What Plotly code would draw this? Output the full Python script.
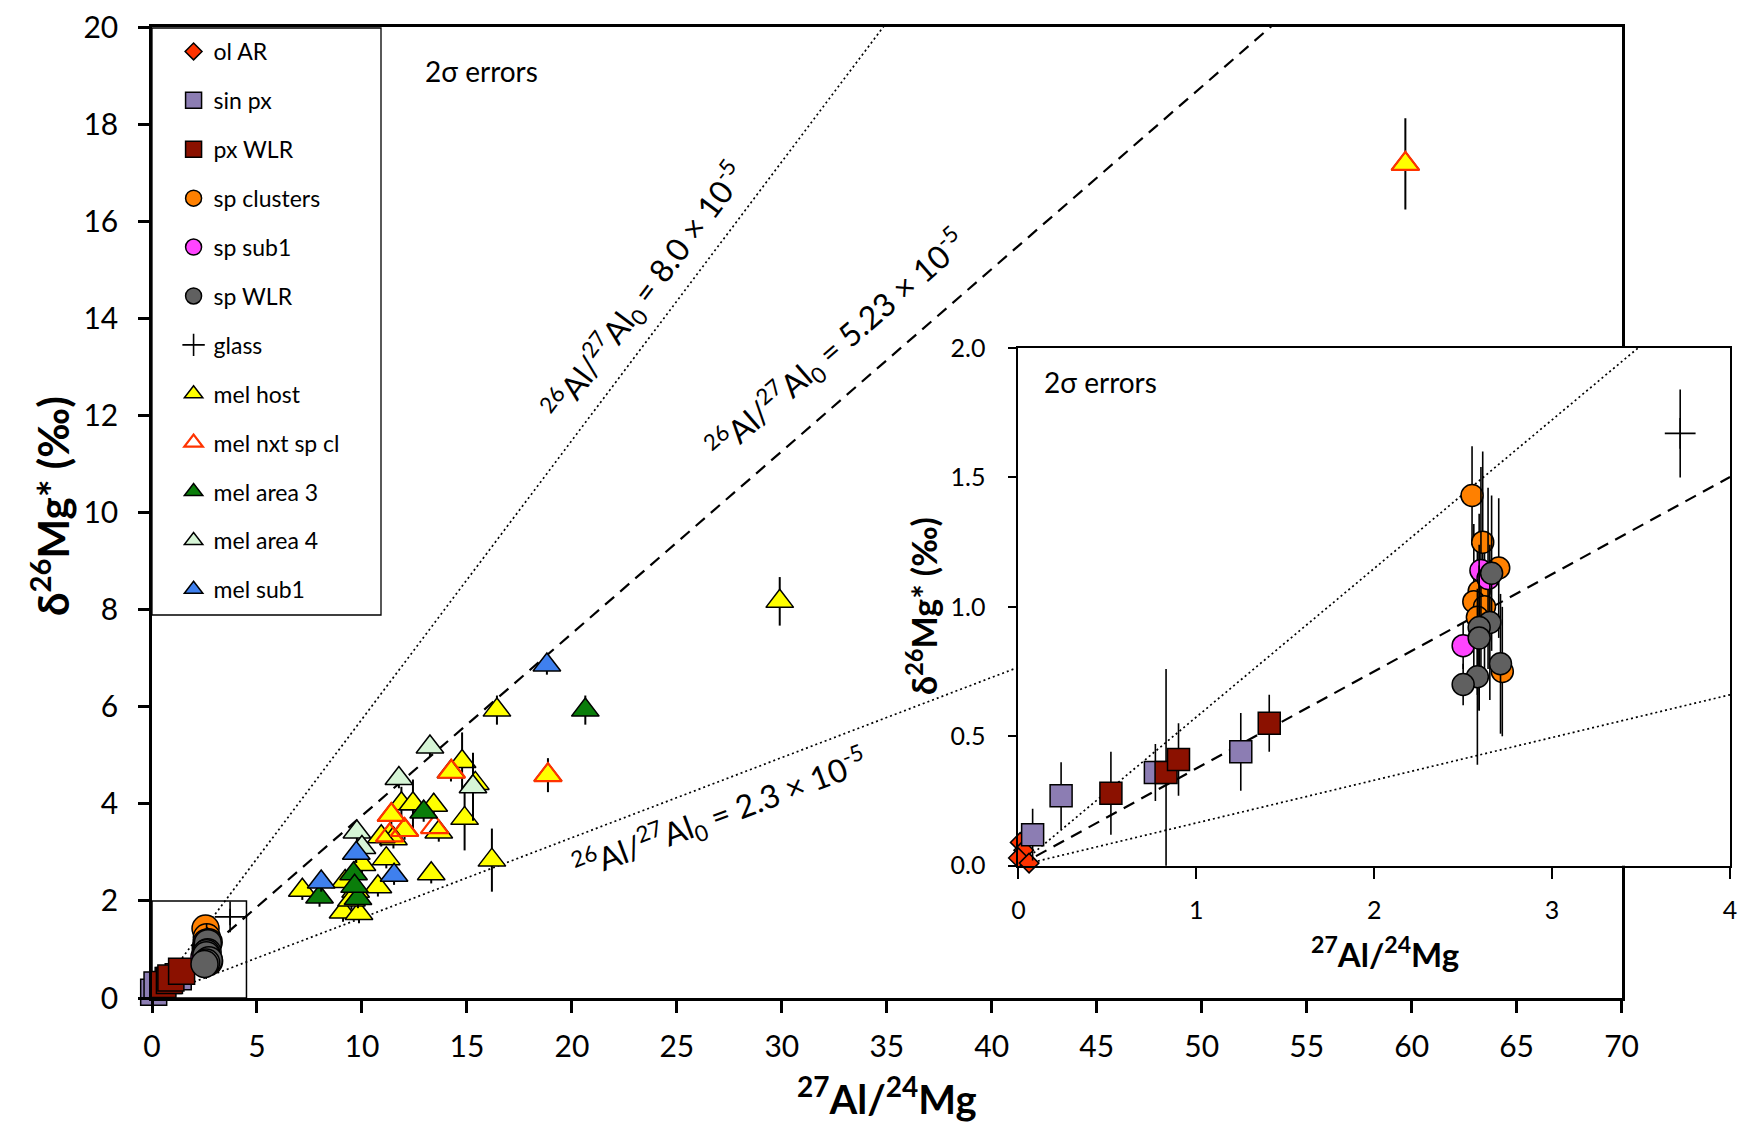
import plotly.graph_objects as go

# ---------------- data ----------------
# inset-scale groups (also shown in the main panel)
ol_ar_x = [0.01, 0.03, 0.00, 0.06]
ol_ar_y = [0.09, 0.06, 0.03, 0.01]
ol_ar_err = [0.03, 0.03, 0.03, 0.03]

sin_px_x = [0.08, 0.24, 0.77, 1.25]
sin_px_y = [0.12, 0.27, 0.36, 0.44]
sin_px_err = [0.10, 0.13, 0.11, 0.15]

px_wlr_x = [0.52, 0.83, 0.90, 1.41]
px_wlr_y = [0.28, 0.36, 0.41, 0.55]
px_wlr_err = [0.16, 0.40, 0.14, 0.11]

sp_cl_x = [2.55, 2.61, 2.70, 2.59, 2.56, 2.62, 2.58, 2.72]
sp_cl_y = [1.43, 1.25, 1.15, 1.06, 1.02, 1.00, 0.96, 0.75]
sp_cl_err = [0.19, 0.35, 0.27, 0.30, 0.30, 0.28, 0.30, 0.25]

sp_sub1_x = [2.60, 2.64, 2.50]
sp_sub1_y = [1.14, 1.11, 0.85]
sp_sub1_err = [0.40, 0.35, 0.09]

sp_wlr_x = [2.66, 2.65, 2.59, 2.59, 2.71, 2.58, 2.50]
sp_wlr_y = [1.13, 0.94, 0.92, 0.88, 0.78, 0.73, 0.70]
sp_wlr_err = [0.30, 0.30, 0.32, 0.28, 0.27, 0.34, 0.08]

glass_x = [3.72]
glass_y = [1.67]
glass_err = [0.17]

# melilite groups (main panel)
mel_host_x = [59.7, 29.9, 16.43, 14.77, 14.24, 18.86, 15.40, 11.88, 12.43, 13.42,
              11.40, 13.66, 12.03, 11.32, 11.50, 14.89, 10.92, 10.00, 11.16, 16.19,
              13.30, 9.20, 7.16, 10.76, 9.70, 9.10, 9.86, 9.50]
mel_host_y = [17.18, 8.17, 5.93, 4.87, 4.66, 4.59, 4.42, 4.00, 4.00, 3.97,
              3.77, 3.42, 3.46, 3.35, 3.28, 3.70, 3.32, 2.75, 2.87, 2.84,
              2.56, 2.40, 2.22, 2.29, 2.20, 1.77, 1.74, 2.02]
mel_host_err = [0.94, 0.50, 0.30, 0.60, 0.20, 0.35, 0.20, 0.35, 0.50, 0.25,
                0.25, 0.20, 0.20, 0.20, 0.20, 0.66, 0.20, 0.20, 0.20, 0.65,
                0.20, 0.20, 0.20, 0.20, 0.20, 0.20, 0.20, 0.20]

mel_nxt_x = [59.7, 18.86, 14.26, 11.40, 13.46, 12.03, 11.32]
mel_nxt_y = [17.18, 4.59, 4.66, 3.77, 3.52, 3.46, 3.35]

mel_a3_x = [20.64, 12.94, 9.60, 7.98, 9.81, 9.65]
mel_a3_y = [5.93, 3.83, 2.56, 2.08, 2.05, 2.30]
mel_a3_err = [0.30, 0.20, 0.20, 0.20, 0.20, 0.20]

mel_a4_x = [13.24, 15.29, 11.76, 9.76, 10.00]
mel_a4_y = [5.17, 4.35, 4.52, 3.42, 3.10]
mel_a4_err = [0.20, 0.70, 0.20, 0.20, 0.20]

mel_sub1_x = [18.81, 9.73, 11.53, 8.06]
mel_sub1_y = [6.86, 2.98, 2.53, 2.39]
mel_sub1_err = [0.20, 0.20, 0.20, 0.20]

# isochron slopes: (26Al/27Al)0 * 1000 / 0.13932
iso_ratio = [8.0e-5, 5.23e-5, 2.3e-5]
iso_slope = [r * 1000 / 0.13932 for r in iso_ratio]
iso_dash = ["2px,3px", "12px,8px", "2px,3px"]
iso_width = [1.7, 2.2, 1.7]

main_xticks = list(range(0, 75, 5))
main_yticks = list(range(0, 22, 2))
inset_xticks = [0, 1, 2, 3, 4]
inset_yticks = [0.0, 0.5, 1.0, 1.5, 2.0]

# ---------------- layout helpers ----------------
W, H = 1744, 1130
ML, MR, MT, MB = 152, 14, 27, 132
PW, PH = W - ML - MR, H - MT - MB


def dx(px):
    return (px - ML) / PW


def dy(py):
    return (H - MB - py) / PH


FONT = "Lato"
BLACK = "black"

fig = go.Figure()

# isochron lines (main + inset)
for s, d, w in zip(iso_slope, iso_dash, iso_width):
    fig.add_trace(go.Scatter(x=[0, 70], y=[0, 70 * s], mode="lines",
                             line=dict(color=BLACK, dash=d, width=w),
                             showlegend=False, hoverinfo="skip",
                             xaxis="x", yaxis="y"))
for s, d, w in zip(iso_slope, iso_dash, iso_width):
    fig.add_trace(go.Scatter(x=[0, 4], y=[0, 4 * s], mode="lines",
                             line=dict(color=BLACK, dash=d, width=w),
                             showlegend=False, hoverinfo="skip",
                             xaxis="x2", yaxis="y2"))

groups = [
    ("ol AR", ol_ar_x, ol_ar_y, ol_ar_err, "diamond", "#FF3300", 13, 15),
    ("sin px", sin_px_x, sin_px_y, sin_px_err, "square", "#8C7DB3", 26, 22),
    ("px WLR", px_wlr_x, px_wlr_y, px_wlr_err, "square", "#8B1100", 26, 22),
    ("sp clusters", sp_cl_x, sp_cl_y, sp_cl_err, "circle", "#FF8000", 27, 22),
    ("sp sub1", sp_sub1_x, sp_sub1_y, sp_sub1_err, "circle", "#FF44FF", 27, 22),
    ("sp WLR", sp_wlr_x, sp_wlr_y, sp_wlr_err, "circle", "#606060", 27, 22),
]

for i, (name, xs, ys, es, sym, col, s_main, s_in) in enumerate(groups):
    for ax, sz, show in (("", s_main, True), ("2", s_in, False)):
        fig.add_trace(go.Scatter(
            x=xs, y=ys, mode="markers", name=name,
            legendgroup=name, showlegend=show, cliponaxis=False,
            marker=dict(symbol=sym, size=sz, color=col,
                        line=dict(color=BLACK, width=1.5)),
            error_y=dict(type="data", array=es, color=BLACK,
                         thickness=1.6, width=0),
            xaxis="x" + ax, yaxis="y" + ax))

# glass
for ax, show in (("", True), ("2", False)):
    fig.add_trace(go.Scatter(
        x=glass_x, y=glass_y, mode="markers", name="glass",
        legendgroup="glass", showlegend=show, cliponaxis=False,
        marker=dict(symbol="cross-thin-open", size=22, color=BLACK,
                    line=dict(color=BLACK, width=1.6)),
        error_y=dict(type="data", array=glass_err, color=BLACK,
                     thickness=1.6, width=0),
        xaxis="x" + ax, yaxis="y" + ax))

TRI = 24
fig.add_trace(go.Scatter(
    x=mel_host_x, y=mel_host_y, mode="markers", name="mel host",
    legendgroup="mel host", cliponaxis=False,
    marker=dict(symbol="triangle-up", size=TRI, color="#FFFF00",
                line=dict(color=BLACK, width=1.5)),
    error_y=dict(type="data", array=mel_host_err, color=BLACK,
                 thickness=2, width=0)))
fig.add_trace(go.Scatter(
    x=mel_nxt_x, y=mel_nxt_y, mode="markers", name="mel nxt sp cl",
    legendgroup="mel nxt sp cl", cliponaxis=False,
    marker=dict(symbol="triangle-up-open", size=TRI, color="#FF3300",
                line=dict(color="#FF3300", width=2.2))))
fig.add_trace(go.Scatter(
    x=mel_a3_x, y=mel_a3_y, mode="markers", name="mel area 3",
    legendgroup="mel area 3", cliponaxis=False,
    marker=dict(symbol="triangle-up", size=TRI, color="#0A7D0A",
                line=dict(color=BLACK, width=1.5)),
    error_y=dict(type="data", array=mel_a3_err, color=BLACK,
                 thickness=2, width=0)))
fig.add_trace(go.Scatter(
    x=mel_a4_x, y=mel_a4_y, mode="markers", name="mel area 4",
    legendgroup="mel area 4", cliponaxis=False,
    marker=dict(symbol="triangle-up", size=TRI, color="#D6F5D6",
                line=dict(color=BLACK, width=1.5)),
    error_y=dict(type="data", array=mel_a4_err, color=BLACK,
                 thickness=2, width=0)))
fig.add_trace(go.Scatter(
    x=mel_sub1_x, y=mel_sub1_y, mode="markers", name="mel sub1",
    legendgroup="mel sub1", cliponaxis=False,
    marker=dict(symbol="triangle-up", size=TRI, color="#3F80EE",
                line=dict(color=BLACK, width=1.5)),
    error_y=dict(type="data", array=mel_sub1_err, color=BLACK,
                 thickness=2, width=0)))

axis_common = dict(showgrid=False, zeroline=False, showline=True,
                   mirror=True, linecolor=BLACK, ticks="outside",
                   tickcolor=BLACK)

fig.update_layout(
    width=W, height=H,
    margin=dict(l=ML, r=MR, t=MT, b=MB, autoexpand=False),
    paper_bgcolor="white", plot_bgcolor="white",
    font=dict(family=FONT, color=BLACK),
    xaxis=dict(domain=[0, dx(1621.6)], range=[0, 70], tickvals=main_xticks,
               linewidth=2.5, ticklen=12, tickwidth=2.5,
               tickfont=dict(size=30, family=FONT), ticklabelstandoff=8,
               anchor="y", **axis_common),
    yaxis=dict(domain=[0, 1], range=[0, 20], tickvals=main_yticks,
               linewidth=2.5, ticklen=11, tickwidth=2.5,
               tickfont=dict(size=30, family=FONT), ticklabelstandoff=14,
               anchor="x", **axis_common),
    xaxis2=dict(domain=[dx(1018.4), 1.0], range=[0, 4], tickvals=inset_xticks,
                linewidth=2, ticklen=11, tickwidth=2,
                tickfont=dict(size=25, family=FONT), ticklabelstandoff=10,
                anchor="y2", **axis_common),
    yaxis2=dict(domain=[dy(865.7), dy(348)], range=[0, 2], tickvals=inset_yticks,
                tickformat=".1f", linewidth=2, ticklen=8, tickwidth=2,
                tickfont=dict(size=25, family=FONT), ticklabelstandoff=18,
                anchor="x2", **axis_common),
    legend=dict(x=dx(152) + 0.001, y=dy(30), xanchor="left", yanchor="top",
                bgcolor="rgba(0,0,0,0)", borderwidth=0,
                font=dict(size=23, family=FONT, color=BLACK),
                tracegroupgap=16, indentation=20, itemsizing="trace"),
    showlegend=True,
)

# legend frame and zoom box
fig.add_shape(type="rect", xref="paper", yref="paper",
              x0=dx(152), x1=dx(381), y0=dy(615), y1=dy(28),
              line=dict(color=BLACK, width=1.3), layer="below")
fig.add_shape(type="rect", xref="x", yref="y", x0=0, x1=4.5, y0=0, y1=2,
              line=dict(color=BLACK, width=1.5), layer="below")

ann = []
ann.append(dict(x=12.9, y=19.1, xref="x", yref="y", xanchor="left",
                yanchor="middle", text="2σ errors", showarrow=False,
                font=dict(size=28, family=FONT)))
ann.append(dict(x=0.13, y=1.87, xref="x2", yref="y2", xanchor="left",
                yanchor="middle", text="2σ errors", showarrow=False,
                font=dict(size=28, family=FONT)))

lab_pos = [(23.5, 14.55, -53), (32.6, 13.45, -41), (27.1, 3.78, -20.7)]
lab_txt = ["<sup>26</sup>Al/<sup>27</sup>Al<sub>0</sub> = 8.0 × 10<sup>-5</sup>",
           "<sup>26</sup>Al/<sup>27</sup>Al<sub>0</sub> = 5.23 × 10<sup>-5</sup>",
           "<sup>26</sup>Al/<sup>27</sup>Al<sub>0</sub> = 2.3 × 10<sup>-5</sup>"]
for (lx, ly, ang), t in zip(lab_pos, lab_txt):
    ann.append(dict(x=lx, y=ly, xref="x", yref="y", text=t, textangle=ang,
                    xanchor="center", yanchor="middle",
                    showarrow=False, font=dict(size=32, family=FONT)))

# axis titles
ann.append(dict(x=dx(887), y=dy(1096), xref="paper", yref="paper",
                xanchor="center", yanchor="middle",
                text="<b><sup>27</sup>Al/<sup>24</sup>Mg</b>", showarrow=False,
                font=dict(size=40, family=FONT)))
ann.append(dict(x=dx(50), y=dy(506), xref="paper", yref="paper",
                xanchor="center", yanchor="middle",
                text="<b>δ<sup>26</sup>Mg* (‰)</b>", textangle=-90,
                showarrow=False,
                font=dict(size=42, family=FONT)))
ann.append(dict(x=dx(1385), y=dy(952), xref="paper", yref="paper",
                xanchor="center", yanchor="middle",
                text="<b><sup>27</sup>Al/<sup>24</sup>Mg</b>", showarrow=False,
                font=dict(size=33, family=FONT)))
ann.append(dict(x=dx(922), y=dy(606), xref="paper", yref="paper",
                xanchor="center", yanchor="middle",
                text="<b>δ<sup>26</sup>Mg* (‰)</b>", textangle=-90,
                showarrow=False,
                font=dict(size=34, family=FONT)))

fig.update_layout(annotations=ann)

fig.write_html("out.html",
               config={"displayModeBar": False},
               post_script="document.body.style.margin='0px';"
                           "document.body.style.overflow='hidden';")
